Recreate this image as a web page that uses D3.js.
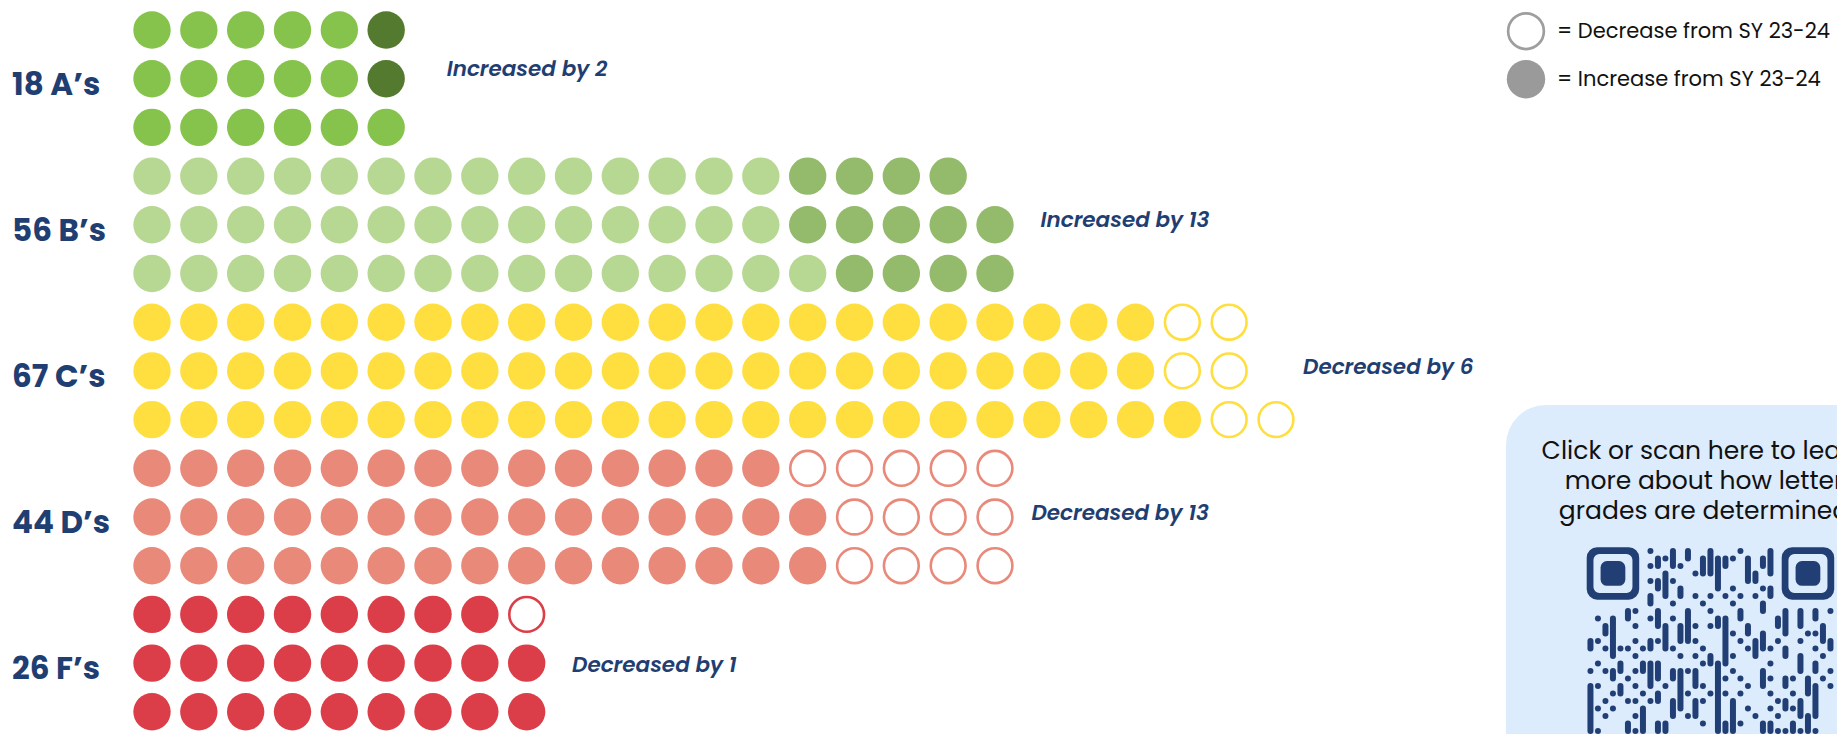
<!DOCTYPE html>
<html>
<head>
<meta charset="utf-8">
<script src="https://cdn.jsdelivr.net/npm/d3@7"></script>
<style>
  html, body { margin: 0; padding: 0; background: #ffffff; }
  svg { display: block; }
</style>
</head>
<body>
<svg id="chart" width="1837" height="734"></svg>
<script>
// ---- data -------------------------------------------------------------
const grades = ["A", "B", "C", "D", "F"];
const gradeCounts = [18, 56, 67, 44, 26];
const changeFromPrior = [2, 13, -6, -13, -1];
// circles per row for schools that held the same grade in both years
const rowBase = [[5, 5, 6], [14, 14, 15], [22, 22, 23], [14, 15, 15], [8, 9, 9]];
// circles per row that changed: gained (solid, darker) or lost (hollow)
const rowChange = [[1, 1, 0], [4, 5, 4], [2, 2, 2], [5, 4, 4], [1, 0, 0]];

const legendLabels = ["= Decrease from SY 23-24", "= Increase from SY 23-24"];
const infoLines = ["Click or scan here to learn", "more about how letter", "grades are determined"];

// QR code: dark module columns for each visible row
const qrRows = [
  [8,11,13,16,20,24],
  [9,10,11,13,15,16,17,18,19,21,23,24],
  [8,9,11,12,15,16,17,18,21,23,24],
  [10,14,15,16,17,21,22,24],
  [8,9,10,11,17,21,22],
  [9,10,12,17,19,23,24],
  [8,10,12,14,16,18,20,22,24],
  [8,11,15,19,23],
  [5,6,9,13,16,20,23,26,28,30,32],
  [1,3,5,8,9,11,13,17,18,20,25,26,28,30],
  [2,3,6,9,10,12,13,14,16,17,18,21,25,26,28,31],
  [2,3,10,12,13,18,19,21,23,26,29,30,31],
  [0,1,3,6,8,9,10,12,13,14,18,20,22,23,25,28,31,32],
  [0,2,3,4,5,7,8,10,11,15,18,21,22,23,24,26,30,32],
  [3,6,12,14,16,18,19,22,26,28,31],
  [1,4,7,8,9,15,16,17,18,24,28,30],
  [0,2,3,4,6,7,8,9,11,12,13,14,17,19,23,28,30,32],
  [3,5,8,9,11,12,14,17,18,20,23,24,26,27,29,31],
  [0,1,4,6,8,10,12,14,15,17,21,23,26,29,30,32],
  [0,3,4,7,9,12,13,16,17,18,20,24,27,29,30],
  [0,2,5,6,8,9,11,12,14,15,17,19,25,26,28,30],
  [0,1,3,7,11,12,14,17,19,21,24,26,27,28,30],
  [0,2,6,7,11,13,14,17,19,22,25,28,29,30],
  [0,5,7,9,10,15,17,18,19,20,23,24,27,29],
  [0,1,5,6,7,9,10,17,18,19,23,24,25,26,27,28,29,30]
];

// ---- styles -------------------------------------------------------------
const baseColors = ["#86c34c", "#b7d893", "#ffdf3f", "#e8897a", "#db3e48"];
const gainColors = ["#537a2f", "#94ba6c", "#ffdf3f", "#e8897a", "#db3e48"];
const navy = "#1f3e72";
const qrColor = "#213f74";
const font = "Poppins, Inter, 'Open Sans', sans-serif";

const svg = d3.select("#chart");

// column and row positions of the circle grid
const x = d3.scaleLinear().domain([0, 24]).range([152, 1276]);
const y = d3.scaleLinear().domain([0, 14]).range([30, 711.8]);
const R = 18.7;
const strokeW = 2.6;

// ---- circles -----------------------------------------------------------
const dots = [];
grades.forEach((g, gi) => {
  rowBase[gi].forEach((n, ri) => {
    const row = gi * 3 + ri;
    for (let c = 0; c < n; c++) dots.push({ gi, row, col: c, kind: "base" });
    const ch = rowChange[gi][ri];
    const kind = changeFromPrior[gi] > 0 ? "gain" : "loss";
    for (let c = 0; c < ch; c++) dots.push({ gi, row, col: n + c, kind });
  });
});

svg.append("g").selectAll("circle")
  .data(dots)
  .join("circle")
  .attr("cx", d => x(d.col))
  .attr("cy", d => y(d.row))
  .attr("r", d => d.kind === "loss" ? R - strokeW / 2 : R)
  .attr("fill", d => d.kind === "loss" ? "#ffffff" : d.kind === "gain" ? gainColors[d.gi] : baseColors[d.gi])
  .attr("stroke", d => d.kind === "loss" ? baseColors[d.gi] : "none")
  .attr("stroke-width", d => d.kind === "loss" ? strokeW : 0);

// ---- grade labels --------------------------------------------------------
svg.append("g").selectAll("text")
  .data(grades)
  .join("text")
  .attr("x", 12)
  .attr("y", (g, i) => y(i * 3 + 1) + 16)
  .attr("fill", navy)
  .attr("font-family", font)
  .attr("font-weight", 700)
  .attr("font-size", 31)
  .text((g, i) => `${gradeCounts[i]} ${g}\u2019s`);

// ---- change annotations ---------------------------------------------------
const annotX = [446.7, 1040.5, 1303, 1031.4, 572];
const annotDy = [-2.3, 2.3, 3, 3, 9];
svg.append("g").selectAll("text")
  .data(changeFromPrior)
  .join("text")
  .attr("x", (d, i) => annotX[i])
  .attr("y", (d, i) => y(i * 3 + 1) + annotDy[i])
  .attr("fill", navy)
  .attr("font-family", font)
  .attr("font-weight", 600)
  .attr("font-style", "italic")
  .attr("font-size", 21.5)
  .text(d => `${d > 0 ? "Increased" : "Decreased"} by ${Math.abs(d)}`);

// ---- legend ---------------------------------------------------------------
const legend = svg.append("g");
legend.selectAll("circle")
  .data(legendLabels)
  .join("circle")
  .attr("cx", 1526)
  .attr("cy", (d, i) => 31.2 + i * 48)
  .attr("r", (d, i) => i === 0 ? 19.2 - 1.35 : 19.2)
  .attr("fill", (d, i) => i === 0 ? "#ffffff" : "#9a9a9a")
  .attr("stroke", (d, i) => i === 0 ? "#9e9e9e" : "none")
  .attr("stroke-width", 2.7);
legend.selectAll("text")
  .data(legendLabels)
  .join("text")
  .attr("x", 1557)
  .attr("y", (d, i) => 38.3 + i * 48)
  .attr("fill", "#111111")
  .attr("font-family", font)
  .attr("font-size", 21)
  .text(d => d);

// ---- info panel with QR code ---------------------------------------------
const panel = svg.append("g");
panel.append("rect")
  .attr("x", 1506).attr("y", 405)
  .attr("width", 450).attr("height", 420)
  .attr("rx", 40).attr("ry", 40)
  .attr("fill", "#dcecfd");

panel.selectAll("text")
  .data(infoLines)
  .join("text")
  .attr("x", 1704)
  .attr("y", (d, i) => 459 + i * 30)
  .attr("text-anchor", "middle")
  .attr("fill", "#111111")
  .attr("font-family", font)
  .attr("font-size", 25)
  .text(d => d);

const qrX = 1586.7, qrY = 547.2, m = 7.5;
const qr = panel.append("g").attr("fill", qrColor);

// finder patterns (top-left and top-right)
[0, 26].forEach(c0 => {
  const fx = qrX + c0 * m, fy = qrY;
  const outer = `M${fx + 1.4 * m},${fy}h${4.2 * m}a${1.4 * m},${1.4 * m} 0 0 1 ${1.4 * m},${1.4 * m}v${4.2 * m}a${1.4 * m},${1.4 * m} 0 0 1 ${-1.4 * m},${1.4 * m}h${-4.2 * m}a${1.4 * m},${1.4 * m} 0 0 1 ${-1.4 * m},${-1.4 * m}v${-4.2 * m}a${1.4 * m},${1.4 * m} 0 0 1 ${1.4 * m},${-1.4 * m}z`;
  const i0 = 0.9 * m, s = 7 * m - 2 * i0, rr = 0.8 * m;
  const inner = `M${fx + i0 + rr},${fy + i0}h${s - 2 * rr}a${rr},${rr} 0 0 1 ${rr},${rr}v${s - 2 * rr}a${rr},${rr} 0 0 1 ${-rr},${rr}h${-(s - 2 * rr)}a${rr},${rr} 0 0 1 ${-rr},${-rr}v${-(s - 2 * rr)}a${rr},${rr} 0 0 1 ${rr},${-rr}z`;
  qr.append("path").attr("d", outer + inner).attr("fill-rule", "evenodd");
  qr.append("rect")
    .attr("x", fx + 1.85 * m).attr("y", fy + 1.85 * m)
    .attr("width", 3.3 * m).attr("height", 3.3 * m)
    .attr("rx", 0.85 * m);
});

// data modules: vertical runs of dark cells become rounded bars
const grid = qrRows.map(cols => new Set(cols));
const runs = [];
for (let c = 0; c < 33; c++) {
  let start = -1;
  for (let r = 0; r <= grid.length; r++) {
    const dark = r < grid.length && grid[r].has(c);
    if (dark && start < 0) start = r;
    if (!dark && start >= 0) { runs.push({ c, r0: start, len: r - start }); start = -1; }
  }
}
const w = 0.8 * m;
qr.selectAll("rect.mod")
  .data(runs)
  .join("rect")
  .attr("class", "mod")
  .attr("x", d => qrX + d.c * m + (m - w) / 2)
  .attr("y", d => qrY + d.r0 * m + (m - w) / 2)
  .attr("width", w)
  .attr("height", d => d.len * m - (m - w))
  .attr("rx", w / 2);
</script>
</body>
</html>
